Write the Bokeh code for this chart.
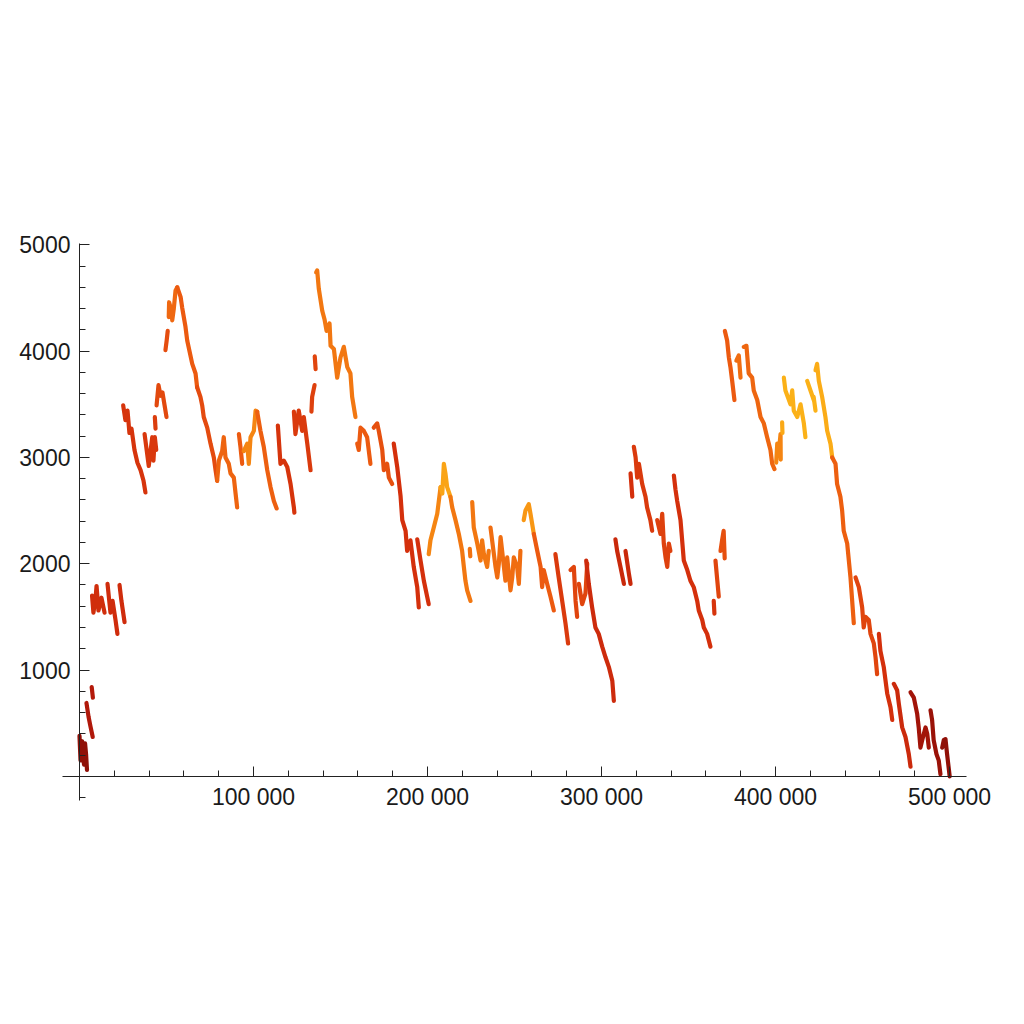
from bokeh.plotting import figure
from bokeh.models import LinearAxis, FixedTicker, Range1d
from bokeh.embed import file_html
from bokeh.resources import INLINE

# ---- data: strokes of the scatter (x, y) with a colour value per stroke ----
STROKES_X = [
    [0, 200, 600, 1100, 1500, 2000, 2600, 3200, 3800, 4300],
    [4000, 5200, 6300, 7600],
    [7000, 7700],
    [7200, 8000, 9200, 9800, 10900, 12600, 14400],
    [16100, 17800, 19000, 20700, 21800],
    [23000, 24100, 25900],
    [25100, 26400, 27600, 28700, 29900, 31600, 33300, 35100, 36800, 37900],
    [37400, 39800, 41800, 42500, 43300, 44100],
    [43300, 43700],
    [44300, 45400, 46600, 47700, 48900, 50000],
    [49400, 50100, 50700],
    [51300, 51500, 52900, 53300, 54200, 55200, 56200],
    [56200, 58100, 59000, 60900, 61900, 64800, 66700, 67600],
    [67600, 69500, 70500, 71400, 73400, 75300, 77200, 78200, 79100],
    [79100, 80100, 82000, 82900, 83900, 85800, 86800, 88700, 89700, 90600],
    [91600, 92500, 93500],
    [94400, 96400, 97300, 98300, 100200, 101200, 102100],
    [102100, 104000, 105900, 107900, 109800, 111700, 113300],
    [114000, 115500, 117400, 119400, 121300, 123200, 123500],
    [123200, 124100, 126000, 128000, 128900, 130900, 132800],
    [133300, 133700, 135100],
    [135200, 135700],
    [136000, 136600, 137500, 139500, 140800, 142000, 143700, 144300, 146200, 148100,
     150000, 151900, 153900, 155700, 156700, 158600],
    [159600, 160500, 161500, 163400, 165300, 167200],
    [169100, 171100, 172000, 174000, 174900, 176800, 177800, 179700],
    [180600, 182600, 184500, 185500, 187400, 188300, 190200, 192100, 194100, 195000],
    [194100, 196000, 197900, 199800, 200700],
    [200700, 201700, 203600, 205600, 207500],
    [207500, 208500, 209400, 210300, 211300, 213200],
    [213200, 214200, 216100, 218000, 219900, 220900, 221800, 222800, 224700],
    [224300, 224600],
    [225700, 226600, 228600, 230500, 231400, 232400, 234300, 235200],
    [236200, 239100, 240100, 241000, 242000, 242900, 244800, 245800, 247700, 248700,
     249600, 251500, 252500, 253400],
    [255300, 256300, 258200, 259200, 261100],
    [261100, 263100, 265000, 265900, 266800, 268800, 270700, 272600],
    [273500, 275400, 277400, 279300, 280800],
    [282200, 284100, 285100, 286000],
    [287000, 288900, 290800, 291800],
    [291200, 292700, 294600, 296500, 298400, 300400, 302300, 304200, 306200, 307100],
    [308000, 309000, 310900, 312900],
    [313800, 315700, 316700],
    [316700, 317700],
    [318600, 319600, 320500, 321500, 323400, 325300, 326200, 328100, 329100],
    [332000, 333900, 334900, 335800, 336800, 337800, 338700, 339600],
    [341600, 342500, 343500, 345400, 347300, 349300, 351100, 353000, 355000, 355900,
     357900, 358800, 360700, 362600],
    [364500, 364900],
    [365500, 366500, 367400],
    [368400, 369300, 370200, 370800],
    [370900, 372200, 373200, 374100, 375100, 376400],
    [377500, 378900, 379900],
    [381800, 383300, 384600, 386600, 387500, 389500, 391400, 393300, 395200, 397100,
     398100, 399400],
    [400400, 401000, 401900, 402900, 403000],
    [403800, 404000],
    [404800, 405700, 407500, 408600, 409600, 410500, 412500, 414400, 416300, 417200],
    [418200, 420100, 422000],
    [421900, 423000],
    [423000, 423900, 424900, 426800, 428700, 429700, 431600, 432600],
    [432600, 434500, 435400, 437300, 438300, 439200, 441200, 443100, 445000],
    [446000, 447900, 449800, 450700, 451700, 453600, 454600, 456500, 457500, 458400],
    [459400, 460300, 462200, 464200, 466100, 467100],
    [468000, 469900, 470900, 472800, 474700, 476600, 477600],
    [477600, 479500, 481400, 482300, 483300, 484300, 486200, 487200, 488100],
    [489100, 490000, 490900, 492500, 493800, 494800],
    [495800, 496700, 497700, 498600, 500100],
]

STROKES_Y = [
    [380, 300, 150, 280, 330, 200, 110, 310, 200, 60],
    [690, 560, 470, 370],
    [840, 740],
    [1700, 1540, 1670, 1790, 1560, 1680, 1540],
    [1810, 1540, 1650, 1470, 1340],
    [1800, 1650, 1450],
    [3490, 3350, 3440, 3230, 3270, 3070, 2950, 2880, 2780, 2670],
    [3220, 2920, 3190, 2970, 3190, 3070],
    [3380, 3270],
    [3490, 3680, 3580, 3610, 3490, 3380],
    [4010, 4100, 4190],
    [4320, 4460, 4380, 4290, 4400, 4570, 4600],
    [4600, 4510, 4410, 4230, 4100, 3880, 3790, 3660],
    [3660, 3570, 3490, 3380, 3280, 3130, 3000, 2880, 2780],
    [2780, 2970, 3060, 3190, 3000, 2940, 2850, 2810, 2660, 2530],
    [3220, 3100, 2940],
    [3060, 3130, 2940, 3190, 3250, 3440, 3430],
    [3430, 3250, 3100, 2880, 2720, 2590, 2520],
    [3300, 2940, 2970, 2910, 2750, 2530, 2480],
    [3430, 3220, 3440, 3250, 3380, 3130, 2880],
    [3430, 3570, 3680],
    [3950, 3830],
    [4740, 4760, 4590, 4380, 4300, 4190, 4260, 4050, 4020, 3750, 3940, 4040, 3850, 3790,
     3570, 3380],
    [3130, 3070, 3280, 3250, 3190, 2940],
    [3280, 3320, 3250, 3070, 2880, 2940, 2810, 2750],
    [3130, 2910, 2640, 2410, 2310, 2120, 2220, 1970, 1780, 1590],
    [2230, 2030, 1840, 1690, 1620],
    [2090, 2220, 2340, 2470, 2720],
    [2720, 2660, 2940, 2850, 2720, 2630],
    [2630, 2530, 2410, 2280, 2120, 1970, 1840, 1750, 1650],
    [2140, 2070],
    [2580, 2340, 2190, 2030, 2220, 2090, 1970, 2120],
    [2340, 1970, 1870, 2000, 2250, 2120, 1840, 2060, 1750, 1870, 2060, 1970, 1810, 2120],
    [2410, 2500, 2560, 2470, 2280],
    [2280, 2120, 1970, 1780, 1940, 1810, 1690, 1560],
    [2090, 1870, 1650, 1440, 1250],
    [1940, 1970, 1650, 1500],
    [1810, 1620, 1720, 2000],
    [2030, 1810, 1590, 1400, 1340, 1220, 1120, 1030, 900, 710],
    [2230, 2120, 1970, 1810],
    [2120, 1910, 1810],
    [2850, 2630],
    [3100, 3000, 2810, 2940, 2750, 2630, 2530, 2410, 2310],
    [2410, 2280, 2470, 2190, 2060, 1970, 2190, 2120],
    [2830, 2700, 2590, 2410, 2030, 1940, 1840, 1780, 1650, 1560, 1470, 1400, 1340, 1220],
    [1650, 1530],
    [2030, 1850, 1690],
    [2120, 2220, 2310, 2050],
    [4190, 4100, 3940, 3850, 3720, 3540],
    [3910, 3960, 3750],
    [4040, 4050, 3790, 3750, 3630, 3540, 3380, 3320, 3190, 3070, 2940, 2890],
    [2950, 3130, 3050, 3220, 2980],
    [3330, 3230],
    [3750, 3630, 3550, 3500, 3630, 3440, 3380, 3500, 3320, 3190],
    [3720, 3630, 3540],
    [3570, 3440],
    [3820, 3880, 3720, 3570, 3380, 3250, 3130, 3000],
    [3000, 2940, 2750, 2630, 2500, 2310, 2190, 1870, 1440],
    [1870, 1780, 1590, 1400, 1500, 1470, 1340, 1250, 1120, 960],
    [1340, 1180, 1030, 780, 650, 530],
    [870, 810, 680, 460, 370, 210, 90],
    [790, 740, 590, 460, 270, 340, 460, 400, 270],
    [620, 530, 340, 210, 150, 20],
    [270, 340, 350, 210, 0],
]

STROKES_C = [
    0.08, 0.20, 0.22, 0.38, 0.37, 0.37, 0.42, 0.44, 0.46, 0.52,
    0.54, 0.66, 0.60, 0.53, 0.64, 0.60, 0.78, 0.62, 0.42, 0.45,
    0.48, 0.50, 0.72, 0.60, 0.55, 0.40, 0.40, 0.78, 0.90, 0.72,
    0.70, 0.72, 0.68, 0.85, 0.60, 0.45, 0.50, 0.50, 0.36, 0.34,
    0.34, 0.40, 0.45, 0.48, 0.40, 0.42, 0.50, 0.55, 0.60, 0.68,
    0.65, 0.78, 0.92, 0.95, 0.95, 0.95, 0.93, 0.62, 0.50, 0.40,
    0.35, 0.15, 0.12, 0.08,
]

X_TICKS = [100000, 200000, 300000, 400000, 500000]
X_TICK_LABELS = ["100 000", "200 000", "300 000", "400 000", "500 000"]
Y_TICKS = [1000, 2000, 3000, 4000, 5000]
Y_TICK_LABELS = ["1000", "2000", "3000", "4000", "5000"]

# ---- colour ramp (dark red -> red -> orange -> amber) ----
STOPS = [
    (0.0, (122, 10, 5)),
    (0.2, (176, 24, 10)),
    (0.4, (212, 48, 12)),
    (0.6, (236, 90, 16)),
    (0.8, (246, 138, 18)),
    (1.0, (253, 190, 26)),
]


def ramp(c):
    for (c0, a), (c1, b) in zip(STOPS[:-1], STOPS[1:]):
        if c <= c1:
            t = (c - c0) / (c1 - c0)
            rgb = [round(a[i] + (b[i] - a[i]) * t) for i in range(3)]
            return "#%02x%02x%02x" % tuple(rgb)
    return "#%02x%02x%02x" % STOPS[-1][1]


colors = [ramp(c) for c in STROKES_C]

# frame covers the label area; axes are limited with `bounds`
p = figure(
    frame_width=990, frame_height=650,
    x_range=Range1d(-39655, 529310), y_range=Range1d(-698, 5417),
    output_backend="svg", toolbar_location=None,
    x_axis_location=None, y_axis_location=None,
    min_border_left=10, min_border_top=200, min_border_right=10, min_border_bottom=60,
)
p.outline_line_color = None
p.xgrid.visible = False
p.ygrid.visible = False
p.background_fill_color = "white"

p.multi_line(xs=STROKES_X, ys=STROKES_Y, line_color=colors, line_width=4.2,
             line_cap="round", line_join="round")

x_minor = [v for v in range(20000, 500001, 20000) if v % 100000]
y_minor = [v for v in range(-200, 5001, 200) if v % 1000]

xaxis = LinearAxis(
    fixed_location=0, bounds=(-9770, 509770),
    ticker=FixedTicker(ticks=X_TICKS, minor_ticks=x_minor),
    major_label_overrides={t: l for t, l in zip(X_TICKS, X_TICK_LABELS)},
)
yaxis = LinearAxis(
    fixed_location=0, bounds=(-228, 5012),
    ticker=FixedTicker(ticks=Y_TICKS, minor_ticks=y_minor),
    major_label_overrides={t: l for t, l in zip(Y_TICKS, Y_TICK_LABELS)},
)
for ax in (xaxis, yaxis):
    ax.axis_line_color = "#222222"
    ax.axis_line_width = 1
    ax.major_tick_line_color = "#222222"
    ax.minor_tick_line_color = "#222222"
    ax.major_tick_in = 10
    ax.major_tick_out = 0
    ax.minor_tick_in = 6
    ax.minor_tick_out = 0
    ax.major_label_text_font = "Liberation Sans"
    ax.major_label_text_font_size = "23px"
    ax.major_label_text_color = "#1a1a1a"
xaxis.major_label_standoff = 8
yaxis.major_label_standoff = 9
p.add_layout(xaxis, "below")
p.add_layout(yaxis, "left")

open("out.html", "w").write(file_html(p, INLINE))
